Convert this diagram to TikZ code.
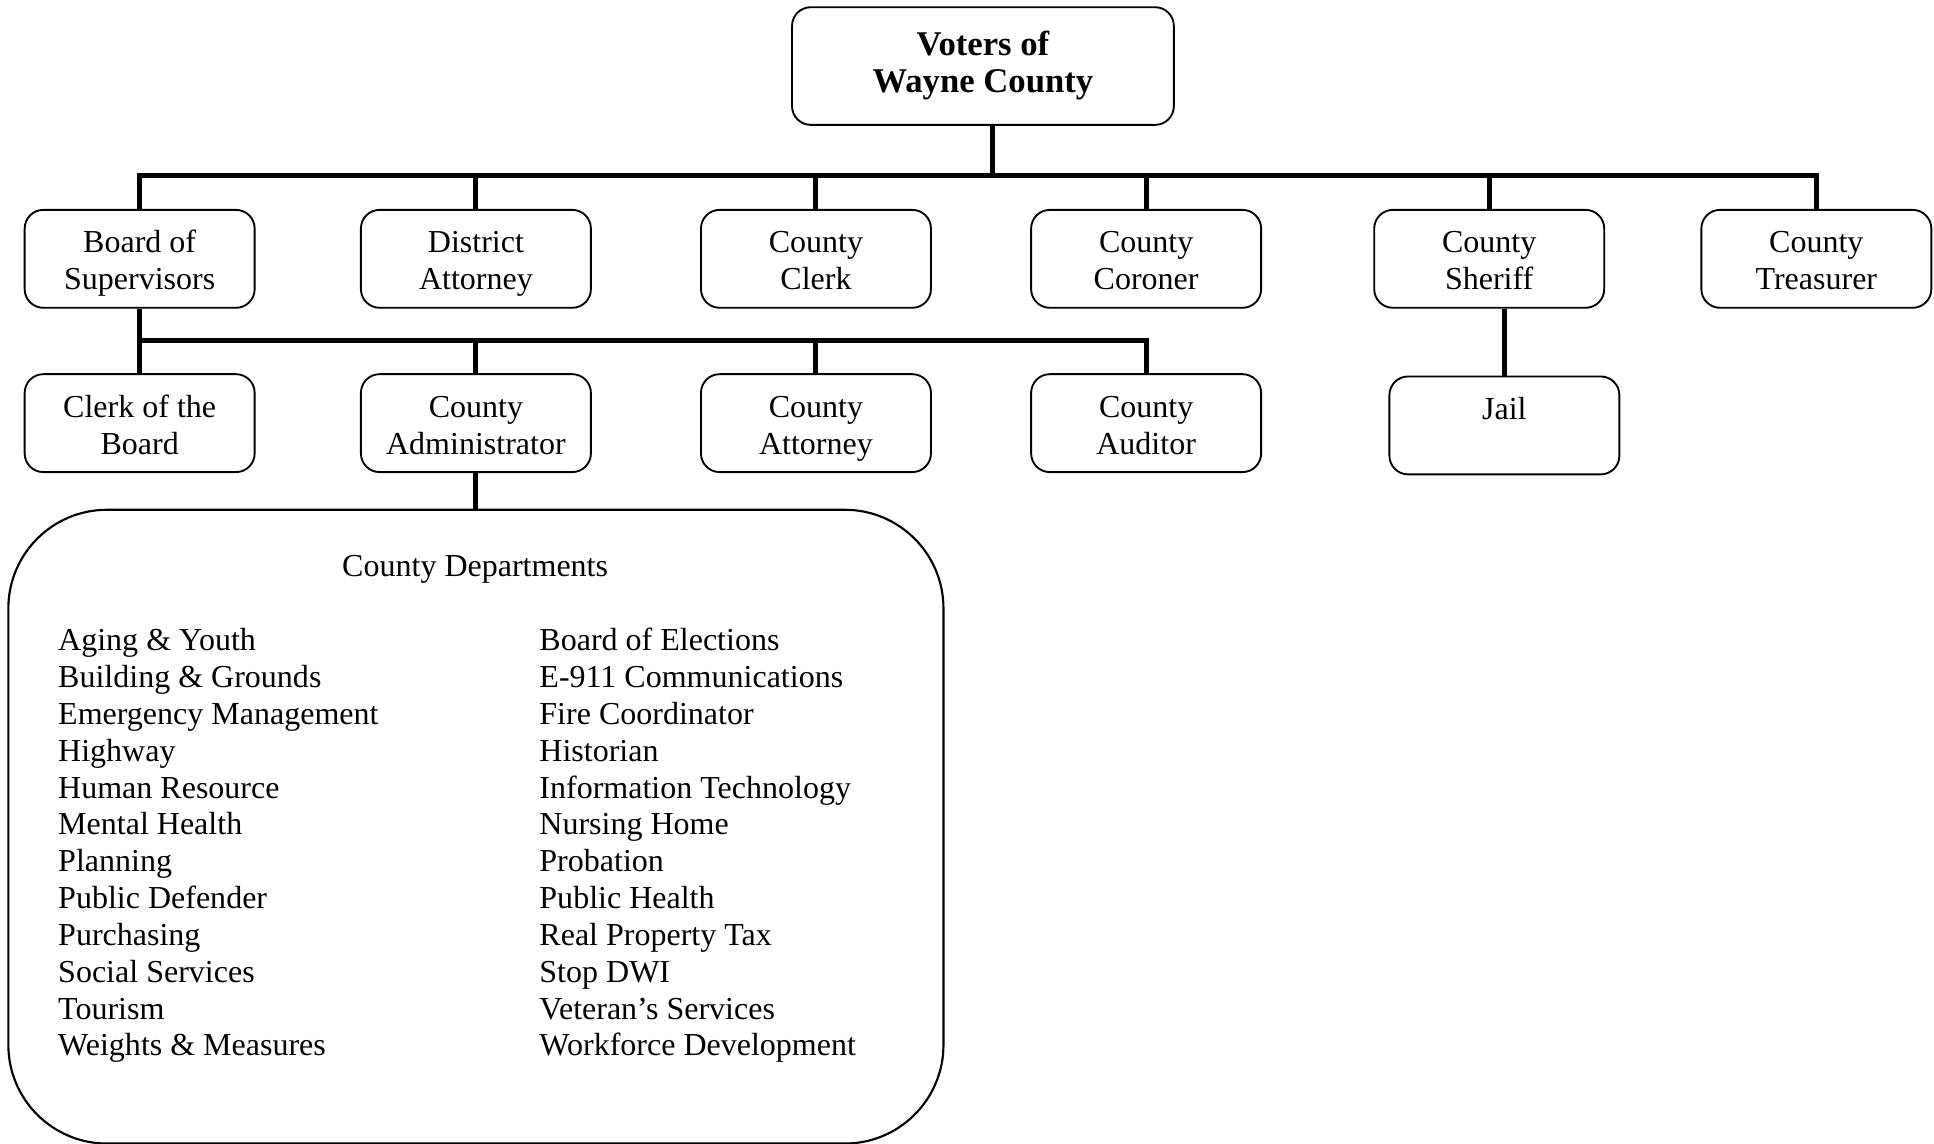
\documentclass[tikz,border=0pt]{standalone}
\usepackage{fontspec}
\setmainfont{Liberation Serif}
\usetikzlibrary{positioning,calc}
\tikzset{
  office/.style ={rectangle, rounded corners=7pt, draw, line width=0.7pt,
                  minimum width=3.03cm, minimum height=1.29cm, inner sep=0pt,
                  align=center, font=\fontsize{12}{13.8}\selectfont,
                  text height=26.4pt,
                  execute at end node={\rule[-3.2pt]{0pt}{3.2pt}}},
  voters/.style ={office, minimum width=5.03cm, minimum height=1.55cm,
                  font=\fontsize{13}{13.8}\selectfont\bfseries,
                  text height=, execute at end node={}},
  deptbox/.style={rectangle, rounded corners=1.3cm, draw, line width=0.8pt,
                  minimum width=12.32cm, minimum height=8.35cm},
  dept/.style   ={inner sep=0pt, font=\fontsize{12}{13.8}\selectfont},
  link/.style   ={line width=1.9pt}
}
\begin{document}
\begin{tikzpicture}[node distance=0.85cm and 1.4cm]
\useasboundingbox (0,0) rectangle (25.48,-15.06);
\node[voters] (voters) at (12.95,-0.87) {Voters of\\Wayne County};
\node[office] (board)   at (1.84,-3.41)  {Board of\\Supervisors};
\node[office] (da)      at (6.27,-3.41)  {District\\Attorney};
\node[office] (clerk)   at (10.75,-3.41) {County\\Clerk};
\node[office] (coroner) at (15.10,-3.41) {County\\Coroner};
\node[office] (sheriff) at (19.62,-3.41) {County\\Sheriff};
\node[office] (treas)   at (23.93,-3.41) {County\\Treasurer};
\node[office, below=of board] (cob)      {Clerk of the\\Board};
\node[office, below=of da]    (admin)    {County\\Administrator};
\node[office, below=of clerk] (attorney) {County\\Attorney};
\node[office, below=of coroner] (auditor) {County\\Auditor};
\node[office, below=0.88cm of sheriff, xshift=0.2cm] (jail) {Jail\\\mbox{}};
\node[deptbox, below=0.47cm of admin] (depts) {};
\node[dept, anchor=base] (deptitle) at (6.26,-7.59) {County Departments};
\foreach \d [count=\i] in {Aging \& Youth, Building \& Grounds, Emergency Management,
    Highway, Human Resource, Mental Health, Planning, Public Defender, Purchasing,
    Social Services, Tourism, Weights \& Measures}
  \node[dept, anchor=base west] (deptl\i) at (0.76,{-8.575-0.485*(\i-1)}) {\d};
\foreach \d [count=\i] in {Board of Elections, E-911 Communications, Fire Coordinator,
    Historian, Information Technology, Nursing Home, Probation, Public Health,
    Real Property Tax, Stop DWI, Veteran's Services, Workforce Development}
  \node[dept, anchor=base west] (deptr\i) at (7.10,{-8.575-0.485*(\i-1)}) {\d};
\coordinate (bus) at (0,-2.31);
\coordinate (bus2) at (0,-4.48);
\coordinate (vdrop) at ($(voters.south)+(0.12,0)$);
\draw[link] (vdrop) -- (vdrop |- bus);
\draw[link] (board.north) |- (treas.north |- bus) -- (treas.north);
\foreach \n in {da,clerk,coroner,sheriff}{\draw[link] (\n.north) -- (\n.north |- bus);}
\draw[link] (board.south) -- (cob.north);
\draw[link] (cob.north) |- (auditor.north |- bus2) -- (auditor.north);
\foreach \n in {admin,attorney}{\draw[link] (\n.north) -- (\n.north |- bus2);}
\draw[link] (jail.north) -- (jail.north |- sheriff.south);
\draw[link] (admin.south) -- (admin.south |- depts.north);
\end{tikzpicture}
\end{document}
